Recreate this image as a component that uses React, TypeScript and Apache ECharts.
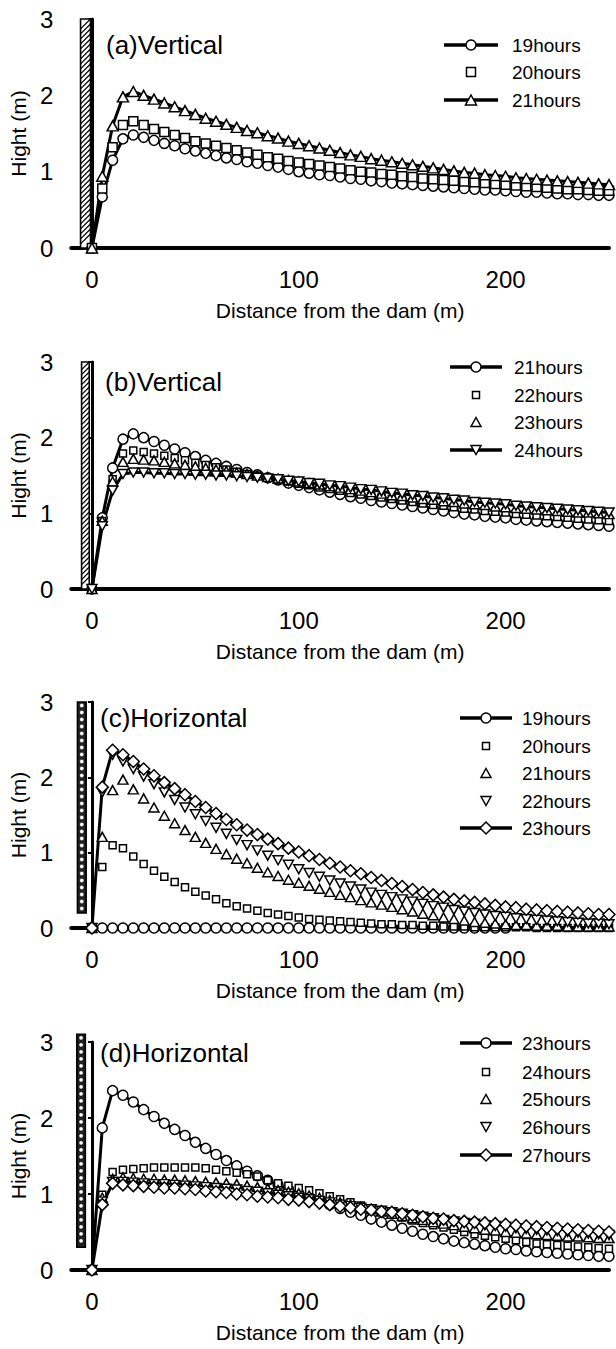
import React, { useEffect, useRef } from "react";
import * as echarts from "echarts";

// Distance from the dam (m)
const distances = [
  0, 5, 10, 15, 20, 25, 30, 35, 40, 45, 50, 55, 60, 65, 70, 75, 80, 85, 90, 95,
  100, 105, 110, 115, 120, 125, 130, 135, 140, 145, 150, 155, 160, 165, 170, 175,
  180, 185, 190, 195, 200, 205, 210, 215, 220, 225, 230, 235, 240, 245, 250,
];

// (a) / (b) Vertical
const v19 = [
  0, 0.67, 1.15, 1.43, 1.48, 1.45, 1.41, 1.37, 1.34, 1.3, 1.27, 1.24, 1.21, 1.18, 1.16, 1.13, 1.11, 1.08, 1.06, 1.03,
  1.0, 0.98, 0.96, 0.95, 0.93, 0.91, 0.9, 0.88, 0.87, 0.85, 0.84, 0.83, 0.82, 0.81, 0.8, 0.79, 0.78, 0.77, 0.76, 0.76,
  0.75, 0.74, 0.73, 0.73, 0.72, 0.71, 0.71, 0.7, 0.7, 0.69, 0.69,
];
const v20 = [
  0, 0.78, 1.32, 1.61, 1.66, 1.61, 1.56, 1.52, 1.48, 1.44, 1.4, 1.37, 1.34, 1.31, 1.28, 1.25, 1.22, 1.19, 1.17, 1.14,
  1.12, 1.1, 1.08, 1.06, 1.04, 1.02, 1.0, 0.99, 0.97, 0.96, 0.94, 0.93, 0.91, 0.9, 0.89, 0.88, 0.87, 0.86, 0.85, 0.84,
  0.83, 0.82, 0.81, 0.8, 0.79, 0.78, 0.77, 0.77, 0.76, 0.75, 0.75,
];
const v21 = [
  0, 0.94, 1.6, 1.98, 2.05, 2.0, 1.95, 1.9, 1.85, 1.8, 1.75, 1.7, 1.66, 1.62, 1.58, 1.54, 1.51, 1.47, 1.44, 1.4,
  1.37, 1.34, 1.31, 1.28, 1.25, 1.22, 1.2, 1.17, 1.15, 1.13, 1.11, 1.09, 1.07, 1.05, 1.03, 1.01, 0.99, 0.98, 0.96, 0.95,
  0.94, 0.92, 0.91, 0.9, 0.89, 0.88, 0.87, 0.86, 0.85, 0.84, 0.83,
];
const v22 = [
  0, 0.9, 1.45, 1.79, 1.83, 1.81, 1.79, 1.76, 1.73, 1.7, 1.67, 1.64, 1.61, 1.58, 1.55, 1.52, 1.5, 1.47, 1.44, 1.42,
  1.39, 1.37, 1.34, 1.32, 1.3, 1.27, 1.25, 1.23, 1.21, 1.19, 1.17, 1.15, 1.13, 1.11, 1.1, 1.08, 1.06, 1.05, 1.03, 1.02,
  1.01, 0.99, 0.98, 0.97, 0.96, 0.95, 0.94, 0.93, 0.92, 0.91, 0.9,
];
const v23 = [
  0, 0.9, 1.42, 1.68, 1.72, 1.71, 1.7, 1.68, 1.66, 1.64, 1.62, 1.6, 1.58, 1.56, 1.54, 1.52, 1.5, 1.48, 1.46, 1.44,
  1.42, 1.4, 1.38, 1.36, 1.34, 1.32, 1.3, 1.28, 1.26, 1.24, 1.23, 1.21, 1.19, 1.18, 1.16, 1.15, 1.13, 1.12, 1.11, 1.09,
  1.08, 1.07, 1.06, 1.05, 1.04, 1.03, 1.02, 1.01, 1.01, 1.0, 0.99,
];
const v24 = [
  0, 0.83, 1.3, 1.52, 1.54, 1.54, 1.53, 1.53, 1.52, 1.52, 1.51, 1.51, 1.5, 1.5, 1.49, 1.48, 1.47, 1.46, 1.45, 1.43,
  1.42, 1.4, 1.39, 1.37, 1.36, 1.34, 1.32, 1.31, 1.29, 1.27, 1.26, 1.24, 1.23, 1.21, 1.2, 1.18, 1.17, 1.15, 1.14, 1.13,
  1.12, 1.1, 1.09, 1.08, 1.07, 1.06, 1.05, 1.04, 1.03, 1.02, 1.01,
];

// (c) / (d) Horizontal
const h19 = [
  0, 0, 0, 0, 0, 0, 0, 0, 0, 0, 0, 0, 0, 0, 0, 0, 0, 0, 0, 0,
  0, 0, 0, 0, 0, 0, 0, 0, 0, 0, 0, 0, 0, 0, 0, 0, 0, 0, 0, 0,
  0, null, null, null, null, null, null, null, null, null, null,
];
const h20 = [
  0, 0.81, 1.1, 1.06, 0.95, 0.85, 0.76, 0.68, 0.61, 0.54, 0.48, 0.43, 0.38, 0.33, 0.29, 0.26, 0.23, 0.2, 0.18, 0.16,
  0.14, 0.12, 0.11, 0.1, 0.09, 0.08, 0.07, 0.06, 0.05, 0.05, 0.04, 0.04, 0.03, 0.03, 0.02, 0.02, 0.02, 0.01, 0.01, 0.01,
  0.01, 0.01, 0.01, 0.0, 0.0, 0.0, 0.0, 0.0, 0.0, 0.0, 0.0,
];
const h21 = [
  0, 1.21, 1.83, 1.97, 1.84, 1.72, 1.6, 1.49, 1.39, 1.3, 1.21, 1.13, 1.05, 0.98, 0.92, 0.86, 0.8, 0.74, 0.69, 0.64,
  0.6, 0.56, 0.52, 0.48, 0.44, 0.41, 0.37, 0.34, 0.31, 0.28, 0.25, 0.22, 0.19, 0.17, 0.14, 0.12, 0.1, 0.08, 0.07, 0.06,
  0.05, 0.04, 0.04, 0.03, 0.03, 0.03, 0.02, 0.02, 0.02, 0.02, 0.02,
];
const h22 = [
  0, 1.8, 2.3, 2.21, 2.11, 2.01, 1.91, 1.8, 1.7, 1.6, 1.51, 1.42, 1.33, 1.25, 1.17, 1.1, 1.03, 0.96, 0.9, 0.84,
  0.78, 0.73, 0.68, 0.63, 0.59, 0.55, 0.51, 0.47, 0.44, 0.41, 0.38, 0.35, 0.32, 0.29, 0.27, 0.24, 0.22, 0.2, 0.18, 0.16,
  0.15, 0.13, 0.12, 0.11, 0.1, 0.09, 0.08, 0.07, 0.06, 0.06, 0.05,
];
const h23 = [
  0, 1.87, 2.36, 2.3, 2.21, 2.11, 2.02, 1.93, 1.85, 1.77, 1.68, 1.6, 1.52, 1.44, 1.37, 1.3, 1.24, 1.18, 1.12, 1.06,
  1.01, 0.96, 0.91, 0.86, 0.81, 0.76, 0.72, 0.67, 0.63, 0.59, 0.55, 0.51, 0.47, 0.44, 0.41, 0.38, 0.36, 0.34, 0.32, 0.3,
  0.28, 0.27, 0.25, 0.24, 0.23, 0.22, 0.21, 0.2, 0.19, 0.18, 0.18,
];
const h24 = [
  0, 0.99, 1.29, 1.32, 1.33, 1.34, 1.35, 1.35, 1.35, 1.35, 1.35, 1.34, 1.32, 1.3, 1.28, 1.26, 1.23, 1.18, 1.14, 1.11,
  1.08, 1.05, 1.01, 0.97, 0.93, 0.89, 0.85, 0.81, 0.77, 0.73, 0.69, 0.65, 0.62, 0.59, 0.56, 0.53, 0.5, 0.47, 0.45, 0.43,
  0.41, 0.39, 0.37, 0.35, 0.34, 0.33, 0.32, 0.31, 0.3, 0.29, 0.28,
];
const h25 = [
  0, 0.95, 1.2, 1.22, 1.21, 1.2, 1.2, 1.19, 1.19, 1.18, 1.17, 1.16, 1.15, 1.14, 1.13, 1.11, 1.09, 1.07, 1.05, 1.03,
  1.01, 0.98, 0.95, 0.92, 0.89, 0.86, 0.83, 0.8, 0.77, 0.74, 0.71, 0.68, 0.66, 0.63, 0.61, 0.59, 0.57, 0.55, 0.53, 0.52,
  0.5, 0.49, 0.48, 0.47, 0.46, 0.45, 0.44, 0.44, 0.43, 0.42, 0.42,
];
const h26 = [
  0, 0.9, 1.16, 1.16, 1.15, 1.14, 1.13, 1.13, 1.12, 1.11, 1.1, 1.09, 1.08, 1.07, 1.06, 1.04, 1.03, 1.01, 0.99, 0.97,
  0.95, 0.93, 0.91, 0.89, 0.86, 0.84, 0.82, 0.8, 0.78, 0.76, 0.74, 0.72, 0.7, 0.68, 0.66, 0.64, 0.62, 0.61, 0.59, 0.58,
  0.57, 0.55, 0.54, 0.53, 0.52, 0.51, 0.5, 0.49, 0.48, 0.47, 0.46,
];
const h27 = [
  0, 0.86, 1.14, 1.12, 1.11, 1.1, 1.09, 1.08, 1.08, 1.07, 1.06, 1.04, 1.03, 1.02, 1.0, 0.99, 0.97, 0.96, 0.95, 0.93,
  0.92, 0.9, 0.88, 0.86, 0.84, 0.82, 0.8, 0.79, 0.77, 0.76, 0.74, 0.72, 0.7, 0.68, 0.67, 0.65, 0.64, 0.63, 0.62, 0.61,
  0.6, 0.59, 0.58, 0.57, 0.56, 0.55, 0.54, 0.53, 0.52, 0.51, 0.5,
];

// Dam wall extents [xFrom, xTo, yFrom, yTo]
const wallA = [-5.5, -0.7, 0, 3];
const wallB = [-5, -1.3, 0, 3];
const wallC = [-7, -2.8, 0.2, 3];
const wallD = [-7.3, -3.2, 0.3, 3.1];

const yTicks = [0, 1, 2, 3];
const xTickLabels = [0, 100, 200];

const FONT = "'Liberation Sans', Arial, Helvetica, sans-serif";

type Spec = { name: string; data: (number | null)[]; symbol: string; size: number | number[]; rotate?: number; line: boolean };

const panels: {
  label: string;
  top: number;
  height: number;
  wall: number[];
  wallKind: "hatch" | "cross";
  legend: { lx0: number; lx1: number; tx: number; ys: number[] };
  labelPos: [number, number];
  series: Spec[];
}[] = [
  {
    label: "(a)Vertical",
    top: 19,
    height: 229,
    wall: wallA,
    wallKind: "hatch",
    legend: { lx0: 444, lx1: 498, tx: 512, ys: [45, 72, 100] },
    labelPos: [106, 45],
    series: [
      { name: "19hours", data: v19, symbol: "circle", size: 10, line: true },
      { name: "20hours", data: v20, symbol: "rect", size: 9, line: false },
      { name: "21hours", data: v21, symbol: "triangle", size: [11, 10], line: true },
    ],
  },
  {
    label: "(b)Vertical",
    top: 362,
    height: 227,
    wall: wallB,
    wallKind: "hatch",
    legend: { lx0: 450, lx1: 502, tx: 514, ys: [367, 395, 422, 450] },
    labelPos: [105, 382],
    series: [
      { name: "21hours", data: v21, symbol: "circle", size: 10, line: true },
      { name: "22hours", data: v22, symbol: "rect", size: 7, line: false },
      { name: "23hours", data: v23, symbol: "triangle", size: [10, 9], line: false },
      { name: "24hours", data: v24, symbol: "triangle", size: [10, 9], rotate: 180, line: true },
    ],
  },
  {
    label: "(c)Horizontal",
    top: 702,
    height: 226,
    wall: wallC,
    wallKind: "cross",
    legend: { lx0: 460, lx1: 512, tx: 522, ys: [718, 746, 773, 801, 828] },
    labelPos: [100, 718],
    series: [
      { name: "19hours", data: h19, symbol: "circle", size: 10, line: true },
      { name: "20hours", data: h20, symbol: "rect", size: 7, line: false },
      { name: "21hours", data: h21, symbol: "triangle", size: [10, 9], line: false },
      { name: "22hours", data: h22, symbol: "triangle", size: [10, 9], rotate: 180, line: false },
      { name: "23hours", data: h23, symbol: "diamond", size: 12, line: true },
    ],
  },
  {
    label: "(d)Horizontal",
    top: 1042,
    height: 228,
    wall: wallD,
    wallKind: "cross",
    legend: { lx0: 460, lx1: 512, tx: 522, ys: [1043, 1072, 1099, 1127, 1155] },
    labelPos: [100, 1053],
    series: [
      { name: "23hours", data: h23, symbol: "circle", size: 10, line: true },
      { name: "24hours", data: h24, symbol: "rect", size: 7, line: false },
      { name: "25hours", data: h25, symbol: "triangle", size: [10, 9], line: false },
      { name: "26hours", data: h26, symbol: "triangle", size: [10, 9], rotate: 180, line: false },
      { name: "27hours", data: h27, symbol: "diamond", size: 12, line: true },
    ],
  },
];

function legendSymbol(sym: string, size: number | number[], rotate: number | undefined, cx: number, cy: number) {
  const w = Array.isArray(size) ? size[0] : size;
  const h = Array.isArray(size) ? size[1] : size;
  const style = { fill: "#fff", stroke: "#000", lineWidth: 1.5 };
  if (sym === "circle") return { type: "circle", shape: { cx, cy, r: w / 2 }, style, z: 10 };
  if (sym === "rect") return { type: "rect", shape: { x: cx - w / 2, y: cy - h / 2, width: w, height: h }, style, z: 10 };
  if (sym === "diamond")
    return {
      type: "polygon",
      shape: { points: [[cx, cy - h / 2], [cx + w / 2, cy], [cx, cy + h / 2], [cx - w / 2, cy]] },
      style,
      z: 10,
    };
  const pts = rotate
    ? [[cx - w / 2, cy - h / 2], [cx + w / 2, cy - h / 2], [cx, cy + h / 2]]
    : [[cx, cy - h / 2], [cx + w / 2, cy + h / 2], [cx - w / 2, cy + h / 2]];
  return { type: "polygon", shape: { points: pts }, style, z: 10 };
}

function buildOption() {
  const grid: any[] = [];
  const xAxis: any[] = [];
  const yAxis: any[] = [];
  const series: any[] = [];
  const graphic: any[] = [];

  panels.forEach((p, gi) => {
    grid.push({ left: 71, width: 538, top: p.top, height: p.height, containLabel: false });
    xAxis.push({
      gridIndex: gi,
      type: "value",
      min: -10,
      max: 250,
      interval: 10,
      axisLine: { show: true, onZero: false, lineStyle: { color: "#000", width: 4 } },
      axisTick: { show: false },
      splitLine: { show: false },
      axisLabel: {
        margin: 19,
        fontSize: 24,
        fontFamily: FONT,
        color: "#000",
        showMinLabel: false,
        showMaxLabel: false,
        formatter: (v: number) => (xTickLabels.indexOf(v) >= 0 ? String(v) : ""),
      },
      name: "Distance from the dam (m)",
      nameLocation: "middle",
      nameGap: 52,
      nameTextStyle: { fontSize: 21, fontFamily: FONT, color: "#000" },
    });
    yAxis.push({
      gridIndex: gi,
      type: "value",
      min: 0,
      max: 3,
      interval: 1,
      axisLine: { show: true, lineStyle: { color: "#000", width: 3 } },
      axisTick: { show: true, length: 4, lineStyle: { color: "#000", width: 2 } },
      splitLine: { show: false },
      axisLabel: {
        margin: 18,
        fontSize: 24,
        fontFamily: FONT,
        color: "#000",
        formatter: (v: number) => (yTicks.indexOf(v) >= 0 ? String(v) : ""),
      },
      name: "Hight (m)",
      nameLocation: "middle",
      nameRotate: 90,
      nameGap: 38,
      nameTextStyle: { fontSize: 21, fontFamily: FONT, color: "#000" },
    });

    // dam wall
    series.push({
      type: "custom",
      xAxisIndex: gi,
      yAxisIndex: gi,
      silent: true,
      clip: false,
      z: 1,
      data: [[p.wall[0], p.wall[1], p.wall[2], p.wall[3]]],
      renderItem: (params: any, api: any) => {
        const tl = api.coord([api.value(0), api.value(3)]);
        const br = api.coord([api.value(1), api.value(2)]);
        const left = tl[0];
        const top = tl[1];
        const w = br[0] - tl[0];
        const h = br[1] - tl[1];
        const children: any[] = [];
        if (p.wallKind === "hatch") {
          children.push({
            type: "rect",
            shape: { x: left, y: top, width: w, height: h },
            style: { fill: "#fff", stroke: "#000", lineWidth: 1.6 },
          });
          for (let yy = top + w; yy <= top + h; yy += 5) {
            children.push({
              type: "line",
              shape: { x1: left, y1: yy, x2: left + w, y2: yy - w },
              style: { stroke: "#000", lineWidth: 1.2 },
            });
          }
        } else {
          children.push({
            type: "rect",
            shape: { x: left, y: top, width: w, height: h },
            style: { fill: "#222", stroke: "#000", lineWidth: 1.6 },
          });
          const step = 7;
          for (let yy = top; yy + step <= top + h + 0.1; yy += step) {
            children.push({
              type: "circle",
              shape: { cx: left + w / 2, cy: yy + step / 2, r: 2.2 },
              style: { fill: "#fff", stroke: "#000", lineWidth: 0.6 },
            });
          }
        }
        return { type: "group", children };
      },
    });

    p.series.forEach((s) => {
      const pts: any[] = [];
      s.data.forEach((v, i) => {
        if (v !== null && v !== undefined) pts.push([distances[i], v]);
      });
      series.push({
        type: "line",
        name: s.name,
        xAxisIndex: gi,
        yAxisIndex: gi,
        data: pts,
        symbol: s.symbol,
        symbolSize: s.size,
        symbolRotate: s.rotate || 0,
        showSymbol: true,
        showAllSymbol: true,
        clip: false,
        z: 3,
        lineStyle: s.line ? { color: "#000", width: 3 } : { color: "#000", width: 0, opacity: 0 },
        itemStyle: { color: "#fff", borderColor: "#000", borderWidth: 1.5 },
      });
    });

    graphic.push({
      type: "text",
      x: p.labelPos[0],
      y: p.labelPos[1],
      style: { text: p.label, fontSize: 26, fontFamily: FONT, fill: "#000", verticalAlign: "middle", align: "left" },
      z: 10,
    });

    p.series.forEach((s, k) => {
      const y = p.legend.ys[k];
      const cx = (p.legend.lx0 + p.legend.lx1) / 2;
      if (s.line) {
        graphic.push({
          type: "line",
          shape: { x1: p.legend.lx0, y1: y, x2: p.legend.lx1, y2: y },
          style: { stroke: "#000", lineWidth: 3.5 },
          z: 9,
        });
      }
      graphic.push(legendSymbol(s.symbol, s.size, s.rotate, cx, y));
      graphic.push({
        type: "text",
        x: p.legend.tx,
        y,
        style: { text: s.name, fontSize: 19, fontFamily: FONT, fill: "#000", verticalAlign: "middle", align: "left" },
        z: 10,
      });
    });
  });

  return {
    animation: false,
    backgroundColor: "#fff",
    grid,
    xAxis,
    yAxis,
    series,
    graphic,
  };
}

export default function App() {
  const ref = useRef<HTMLDivElement>(null);
  useEffect(() => {
    document.body.style.margin = "0";
    const chart = echarts.init(ref.current!, null, { renderer: "svg" });
    chart.setOption(buildOption() as any);
    return () => chart.dispose();
  }, []);
  return <div ref={ref} style={{ width: 616, height: 1349 }} />;
}
